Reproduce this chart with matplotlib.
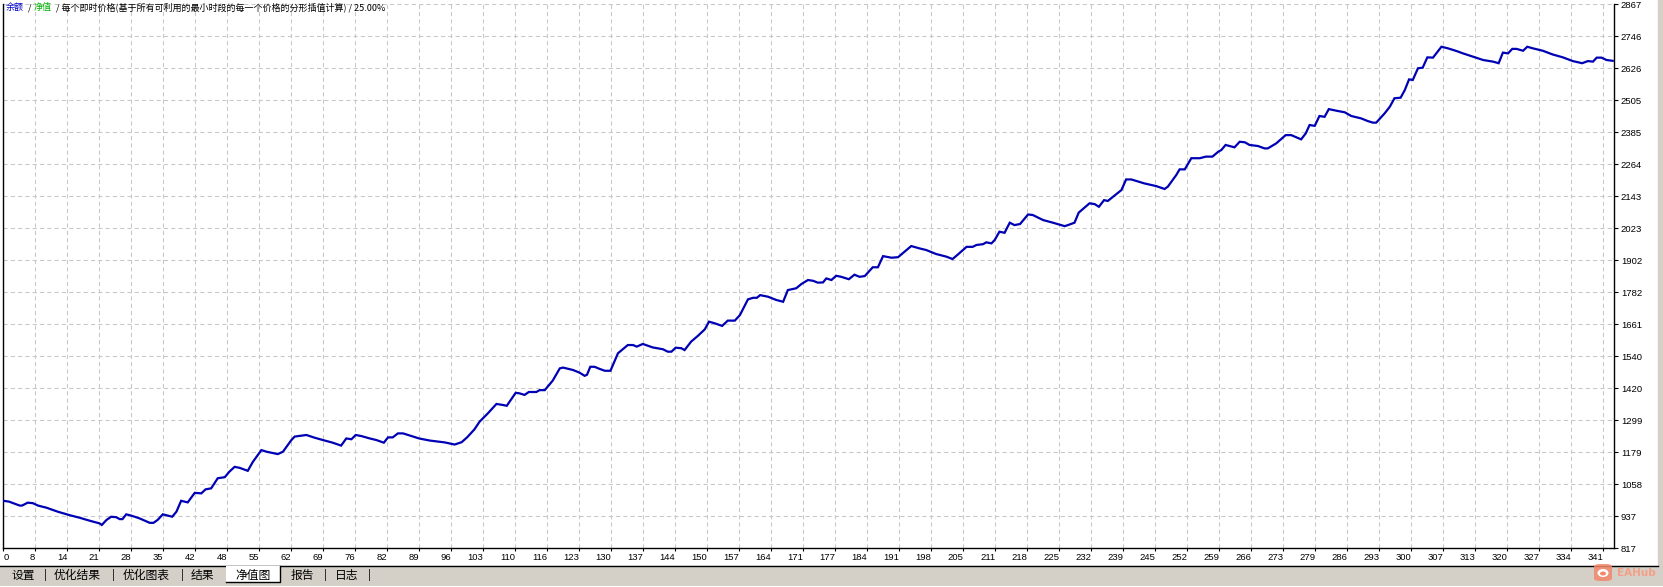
"""
MT4 strategy tester - equity chart (净值图)
"""

import numpy as np
import matplotlib
matplotlib.use("Agg")
import matplotlib.pyplot as plt
from matplotlib.patches import Rectangle, FancyBboxPatch, Ellipse


# ==========================================================
# DATA
# ==========================================================

TRADES = [
    0, 1.2, 3.5, 4.0, 5.2, 6.3, 7.4, 9.2, 11.6, 14.1, 16.3, 18.4, 20.5, 21.0,
    22.0, 23.0, 24.1, 24.8, 25.4, 26.2, 27.3, 29.0, 31.2, 32.0, 32.9, 34.0,
    35.1, 36.0, 36.9, 37.9, 39.3, 40.8, 42.2, 43.1, 44.3, 45.7, 47.2, 48.2,
    49.3, 50.4, 52.1, 53.2, 55.0, 56.1, 58.5, 59.6, 61.4, 62.1, 64.6, 66.3,
    68.1, 70.2, 72.0, 73.1, 74.2, 75.1, 76.3, 78.1, 79.5, 81.1, 82.0, 83.0,
    84.1, 85.2, 87.3, 88.6, 90.9, 94.1, 96.2, 97.7, 98.9, 100.4, 101.5, 103.3,
    105.1, 106.5, 107.3, 109.2, 110.0, 111.1, 112.0, 113.6, 114.3, 115.4,
    117.1, 118.6, 119.3, 121.4, 122.8, 123.9, 124.4, 125.1, 126.0, 127.1,
    128.2, 129.4, 131.0, 133.1, 134.2, 135.0, 136.3, 138.4, 140.6, 141.6,
    142.4, 143.3, 144.5, 145.2, 146.6, 148.0, 149.5, 150.4, 151.6, 153.2,
    154.4, 155.9, 157.0, 158.7, 159.8, 160.6, 161.3, 163.0, 164.7, 166.2,
    167.2, 169.0, 170.1, 171.5, 172.6, 173.6, 174.7, 175.4, 176.5, 177.5,
    178.6, 180.2, 181.4, 182.5, 183.6, 185.3, 186.4, 187.5, 189.3, 190.7,
    193.5, 195.3, 196.7, 198.8, 201.0, 202.3, 203.5, 205.3, 206.6, 207.4,
    208.8, 209.5, 210.6, 211.3, 212.3, 213.4, 214.5, 215.5, 216.7, 218.4,
    219.4, 221.6, 223.7, 226.2, 226.9, 228.3, 229.2, 231.5, 232.6, 233.5,
    234.6, 235.4, 238.3, 239.3, 240.4, 243.2, 245.7, 247.5, 248.2, 250.0,
    250.7, 251.8, 253.2, 255.0, 256.3, 257.7, 258.9, 259.6, 260.5, 262.4,
    263.5, 264.6, 265.6, 267.4, 268.8, 269.5, 271.3, 273.3, 274.5, 276.6,
    277.6, 278.4, 279.5, 280.5, 281.6, 282.5, 284.4, 285.9, 287.3, 289.4,
    290.8, 291.9, 292.6, 294.4, 295.5, 296.5, 297.8, 298.7, 299.6, 300.4,
    301.5, 302.5, 303.5, 304.7, 306.5, 307.9, 309.7, 311.1, 313.3, 315.4,
    317.5, 318.7, 319.6, 320.7, 321.6, 322.5, 323.9, 324.8, 326.0, 328.1,
    330.2, 332.4, 334.5, 336.5, 337.7, 338.8, 339.6, 340.6, 341.7, 343.0,
]

BALANCE = [
    996, 993, 978, 978, 989, 987, 978, 970, 955, 942, 932, 921, 911, 905,
    924, 936, 934, 927, 927, 945, 940, 930, 913, 913, 924, 945,
    940, 936, 955, 996, 990, 1026, 1024, 1039, 1043, 1081, 1085, 1106,
    1124, 1120, 1109, 1143, 1187, 1181, 1172, 1181, 1225, 1238, 1244, 1234,
    1225, 1215, 1204, 1231, 1228, 1244, 1240, 1231, 1225, 1215, 1235, 1235,
    1250, 1250, 1238, 1231, 1223, 1216, 1208, 1217, 1236, 1265, 1294, 1326,
    1361, 1357, 1354, 1403, 1401, 1395, 1406, 1406, 1413, 1413,
    1449, 1495, 1498, 1489, 1479, 1467, 1471, 1501, 1501, 1493,
    1486, 1486, 1552, 1583, 1583, 1577, 1587, 1574, 1567, 1558,
    1558, 1573, 1571, 1564, 1596, 1617, 1642, 1671, 1665, 1655,
    1675, 1675, 1696, 1755, 1761, 1761, 1771, 1765, 1753, 1746,
    1790, 1797, 1813, 1828, 1825, 1818, 1819, 1834, 1828, 1844,
    1840, 1831, 1848, 1840, 1843, 1876, 1876, 1918, 1912, 1914,
    1956, 1947, 1941, 1926, 1916, 1907, 1925, 1953, 1953, 1960,
    1963, 1970, 1966, 1979, 2010, 2006, 2044, 2035, 2039, 2075,
    2073, 2054, 2044, 2031, 2035, 2044, 2082, 2117, 2114, 2104,
    2129, 2126, 2167, 2207, 2207, 2192, 2182, 2171, 2180, 2224,
    2245, 2245, 2287, 2287, 2293, 2293, 2311, 2318, 2337, 2328,
    2349, 2347, 2337, 2333, 2324, 2324, 2343, 2374, 2374, 2358,
    2381, 2412, 2409, 2446, 2443, 2472, 2465, 2460, 2446, 2437,
    2427, 2421, 2421, 2456, 2481, 2513, 2515, 2544, 2584, 2582,
    2626, 2628, 2667, 2666, 2707, 2701, 2691, 2682, 2669, 2657,
    2651, 2645, 2685, 2682, 2699, 2699, 2692, 2707, 2701, 2692,
    2678, 2667, 2653, 2645, 2653, 2651, 2666, 2666, 2657, 2654,
]

X_LABELS = [
    "0", "8", "14", "21", "28", "35", "42", "48", "55", "62", "69", "76",
    "82", "89", "96", "103", "110", "116", "123", "130", "137", "144", "150",
    "157", "164", "171", "177", "184", "191", "198", "205", "211", "218",
    "225", "232", "239", "245", "252", "259", "266", "273", "279", "286",
    "293", "300", "307", "313", "320", "327", "334", "341",
]

Y_LABELS = [
    "817", "937", "1058", "1179", "1299", "1420", "1540", "1661", "1782",
    "1902", "2023", "2143", "2264", "2385", "2505", "2626", "2746", "2867",
]

TABS = ["设置", "优化结果", "优化图表", "结果", "净值图", "报告", "日志"]


# ==========================================================
# STYLE
# ==========================================================

W, H = 1663, 587
CJK = ["Noto Sans CJK SC", "DejaVu Sans"]
NUM = "Liberation Sans"
LINE_BLUE = "#0000B4"
GRID = "#C8C8C8"
PANEL = "#D4D0C8"


def fx(px):
    return px / W


def fy(py):
    return 1 - py / H


# ==========================================================
# CHART
# ==========================================================

def draw_chart(fig):

    left, right, top, bottom = 3.3, 1614, 4.3, 548.3
    ax = fig.add_axes([fx(left), fy(bottom), fx(right - left),
                       (bottom - top) / H])

    x_max = 341 * (right - left) / 1600
    ax.set_xlim(0, x_max)
    ax.set_ylim(817, 2867)

    ax.plot(TRADES, BALANCE, color=LINE_BLUE, lw=1.6,
            solid_joinstyle="miter", zorder=3)

    # ticks
    xt = np.linspace(0, 341, len(X_LABELS))
    ax.set_xticks(xt)
    ax.set_xticklabels(X_LABELS, fontfamily=NUM, fontsize=6.8)
    for i, lab in enumerate(ax.get_xticklabels()):
        lab.set_horizontalalignment("left" if i == 0 else "right")

    yt = np.linspace(817, 2867, len(Y_LABELS))
    ax.set_yticks(yt)
    ax.set_yticklabels(Y_LABELS, fontfamily=NUM, fontsize=6.8)
    ax.yaxis.tick_right()

    ax.tick_params(axis="x", length=2, width=0.8, pad=1.5, colors="black")
    ax.tick_params(axis="y", length=3, width=0.8, pad=2, colors="black")

    ax.grid(True, color=GRID, lw=0.75, linestyle=(0, (4, 3)))
    ax.set_axisbelow(True)

    for side in ("left", "bottom", "right"):
        ax.spines[side].set_color("black")
        ax.spines[side].set_linewidth(1.0)
    ax.spines["top"].set_visible(False)

    return ax


# ==========================================================
# WINDOW DECORATION
# ==========================================================

def draw_frame(fig):

    # right grey border
    fig.patches.append(Rectangle((fx(1658), 0), fx(5), 1,
                                 transform=fig.transFigure,
                                 color=PANEL, zorder=0))

    # tab bar
    fig.patches.append(Rectangle((0, 0), 1, fy(566),
                                 transform=fig.transFigure,
                                 color=PANEL, zorder=1))
    fig.lines.append(plt.Line2D([0, fx(1658)], [fy(566), fy(566)],
                                transform=fig.transFigure,
                                color="black", lw=1.0, zorder=2))
    fig.lines.append(plt.Line2D([0, 1], [fy(585.5), fy(585.5)],
                                transform=fig.transFigure,
                                color="white", lw=0.8, zorder=2))

    # active tab
    fig.patches.append(Rectangle((fx(226), fy(582)), fx(54), fy(566) - fy(582),
                                 transform=fig.transFigure,
                                 facecolor="white", edgecolor="none",
                                 zorder=2))
    fig.lines.append(plt.Line2D([fx(280), fx(280), fx(226)],
                                [fy(566), fy(582), fy(582)],
                                transform=fig.transFigure,
                                color="black", lw=1.0, zorder=3))

    # tab labels
    tab_x = [12, 54, 123, 191, 235, 291, 335]
    bars = [45, 113, 182, 325, 369]
    for name, x in zip(TABS, tab_x):
        fig.text(fx(x), fy(575), name, family=CJK, fontsize=8.5,
                 va="center", ha="left", color="black", zorder=4)
    for x in bars:
        fig.text(fx(x), fy(575), "|", family=CJK, fontsize=8,
                 va="center", ha="center", color="black", zorder=4)

    # legend line at the top
    y = fy(7.5)
    fig.text(fx(6), y, "余额", family=CJK, fontsize=6.5,
             color="#0000C8", va="center", zorder=5)
    fig.text(fx(28), y, "/", family=CJK, fontsize=6.5,
             color="black", va="center", zorder=5)
    fig.text(fx(34), y, "净值", family=CJK, fontsize=6.5,
             color="#00B400", va="center", zorder=5)
    fig.text(fx(56), y,
             "/ 每个即时价格(基于所有可利用的最小时段的每一个价格的"
             "分形插值计算) / 25.00%",
             family=CJK, fontsize=6.5, color="black", va="center", zorder=5)

    # EAHub watermark
    fig.patches.append(FancyBboxPatch((fx(1594), fy(581)), fx(18),
                                      fy(564) - fy(581),
                                      boxstyle="round,pad=0,rounding_size=0.004",
                                      transform=fig.transFigure,
                                      facecolor="#F2876A", edgecolor="none",
                                      alpha=0.85, zorder=5))
    fig.patches.append(Ellipse((fx(1603), fy(573)), fx(11), 8 / H,
                               transform=fig.transFigure,
                               facecolor="white", edgecolor="none", zorder=6))
    fig.patches.append(Ellipse((fx(1603), fy(573.5)), fx(6), 4 / H,
                               transform=fig.transFigure,
                               facecolor="#F2876A", edgecolor="none",
                               zorder=7))
    fig.text(fx(1617), fy(573), "EAHub", fontsize=7.5, fontweight="bold",
             color="#F4A088", va="center", ha="left", zorder=6)


# ==========================================================
# MAIN
# ==========================================================

def main():

    fig = plt.figure(figsize=(W / 100, H / 100), dpi=100)
    fig.patch.set_facecolor("white")

    draw_chart(fig)
    draw_frame(fig)

    fig.savefig("out.png", dpi=100)


if __name__ == "__main__":

    main()
